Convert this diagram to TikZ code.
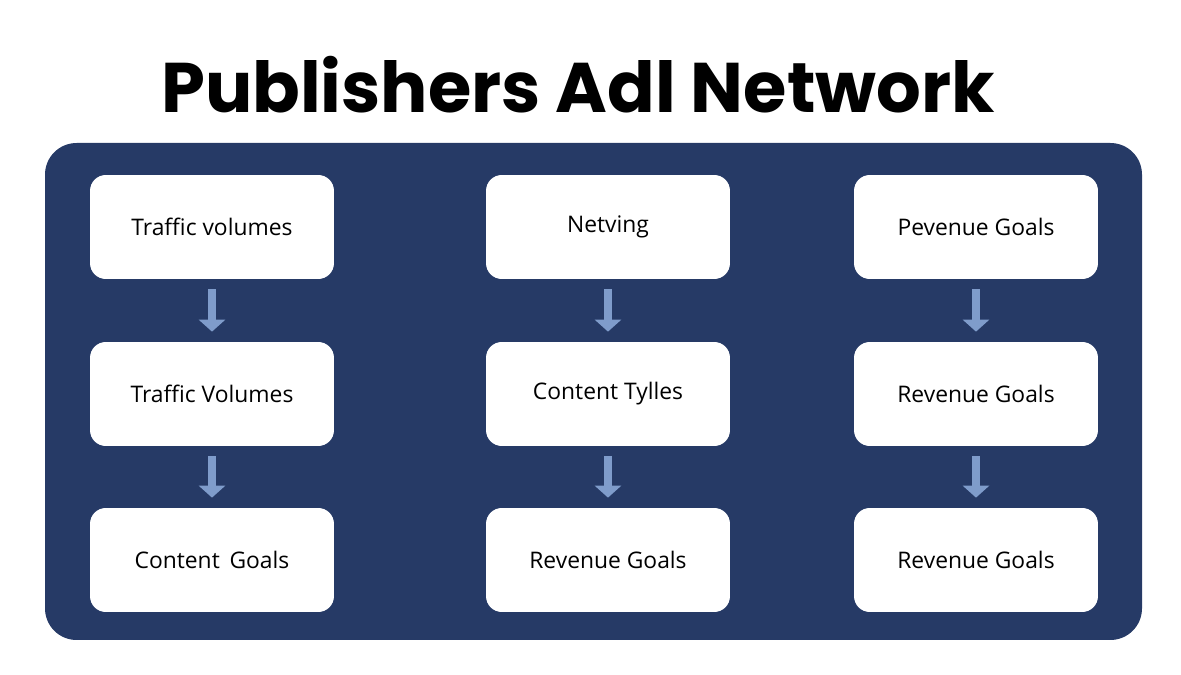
\documentclass[tikz,border=0pt]{standalone}
\usepackage{fontspec}
\setmainfont{Open Sans}
\newfontfamily\titlefont{Poppins}
\usetikzlibrary{arrows.meta,positioning}
\definecolor{panel}{HTML}{263A66}
\definecolor{arrowc}{HTML}{7F9CCB}
\tikzset{
  box/.style={draw=none,fill=white,rounded corners=9pt,minimum width=4.88cm,minimum height=2.08cm,font=\fontsize{13}{15}\selectfont},
  down/.style={draw=arrowc,line width=1.6mm,-{Triangle[length=2.4mm,width=5.2mm]},shorten <=0.2cm,shorten >=0.2cm}
}
\begin{document}
\begin{tikzpicture}[x=0.02cm,y=-0.02cm]
	\useasboundingbox (0,0) rectangle (1181,675);
	%
	\node[font=\titlefont\bfseries\fontsize{40}{44}\selectfont] (title) at (578,85) {Publishers Adl Network};
	\fill[panel,rounded corners=18pt] (45,143) rectangle (1142,640);
	%
	\node[box] (a1) at (212,227) {Traffic volumes};
	\node[box] (a2) at (212,394) {Traffic Volumes};
	\node[box] (a3) at (212,560) {Content\, Goals};
	\node[box] (b1) at (608,227) {Netving};
	\node[box] (b2) at (608,394) {Content Tylles};
	\node[box] (b3) at (608,560) {Revenue Goals};
	\node[box] (c1) at (976,227) {Pevenue Goals};
	\node[box] (c2) at (976,394) {Revenue Goals};
	\node[box] (c3) at (976,560) {Revenue Goals};
	%
	\foreach \col in {a,b,c}{
		\draw[down] (\col1) -- (\col2);
		\draw[down] (\col2) -- (\col3);
	}
\end{tikzpicture}
\end{document}
